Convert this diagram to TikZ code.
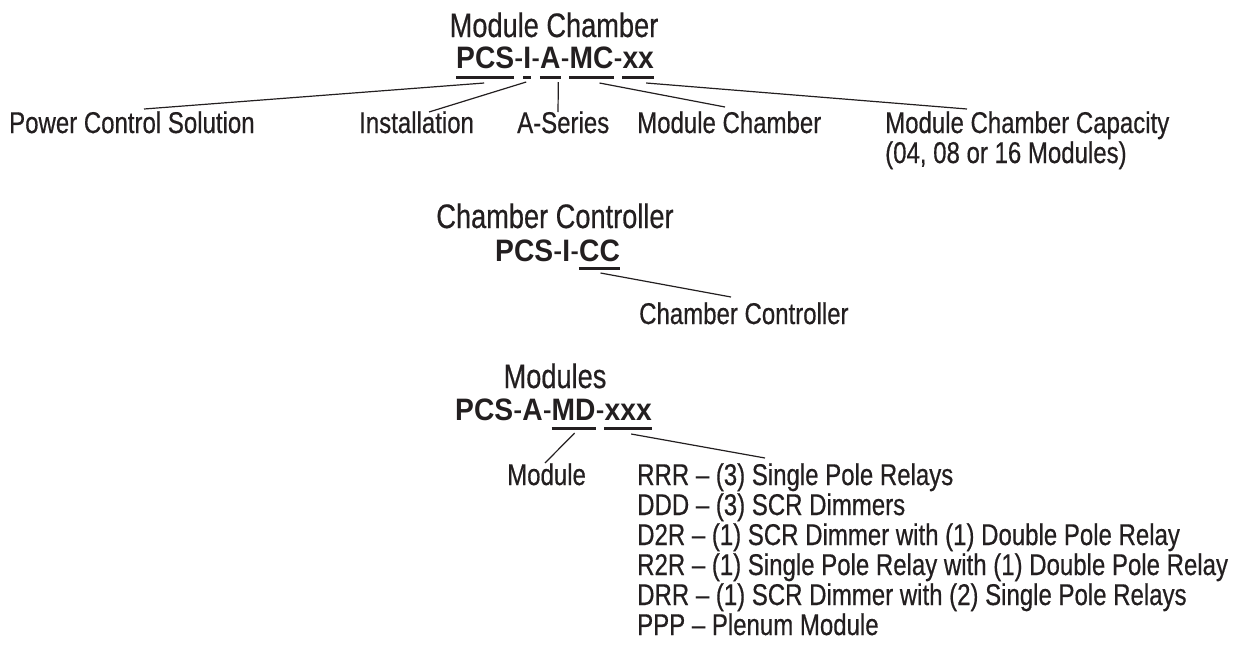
\documentclass[tikz,border=0pt]{standalone}
\usepackage{fontspec}
\setmainfont{Liberation Sans}[FakeStretch=0.8,FakeBold=0.5]
\newfontfamily\codefont{Liberation Sans Bold}[FakeStretch=0.91]
\usetikzlibrary{positioning}
\definecolor{ink}{RGB}{35,31,32}

\begin{document}
\begin{tikzpicture}[x=1pt,y=-1pt,node distance=0pt,every node/.style={text=ink}]
  \tikzstyle{ttl}=[inner sep=0pt,anchor=base,font=\fontsize{34}{36}\selectfont]
  \tikzstyle{cd}=[inner sep=0pt,font=\fontsize{31}{34}\selectfont\codefont]
  \tikzstyle{hy}=[inner sep=0pt,font=\fontsize{31}{34}\selectfont]
  \tikzstyle{lbl}=[inner sep=0pt,anchor=base west,align=left,font=\fontsize{30}{30}\selectfont]
  \tikzstyle{ul}=[draw=ink,line width=3pt]
  \tikzstyle{ld}=[draw=ink,line width=1.2pt]
  \useasboundingbox (0,0) rectangle (1239,646);

  % module chamber
  \node[ttl] (t-mc) at (554,37) {Module Chamber};
  \node[cd,anchor=base west] (mc-pcs) at (456,68) {PCS};
  \node[hy,base right=of mc-pcs] (mc-h1) {-};
  \node[cd,base right=of mc-h1] (mc-i) {I};
  \node[hy,base right=of mc-i] (mc-h2) {-};
  \node[cd,base right=of mc-h2] (mc-a) {A};
  \node[hy,base right=of mc-a] (mc-h3) {-};
  \node[cd,base right=of mc-h3] (mc-mc) {MC};
  \node[hy,base right=of mc-mc] (mc-h4) {-};
  \node[cd,base right=of mc-h4] (mc-xx) {xx};
  \foreach \p in {mc-pcs,mc-i,mc-a,mc-mc,mc-xx}
    \draw[ul] ([yshift=-9pt]\p.base west) -- ([yshift=-9pt]\p.base east);

  \node[lbl] (l-pcs) at (9,133) {Power Control Solution};
  \node[lbl] (l-inst) at (359,133) {Installation};
  \node[lbl] (l-aser) at (517,133) {A-Series};
  \node[lbl] (l-mc) at (637,133) {Module Chamber};
  \node[lbl] (l-cap) at (885,163) {Module Chamber Capacity\\(04, 08 or 16 Modules)};

  \draw[ld] ([shift={(-1pt,-15pt)}]mc-pcs.base) -- ([shift={(135pt,24pt)}]l-pcs.base west);
  \draw[ld] ([shift={(-1pt,-14pt)}]mc-i.base) -- ([shift={(70pt,21pt)}]l-inst.base west);
  \draw[ld] ([shift={(8pt,-14pt)}]mc-a.base) -- ([shift={(41pt,21pt)}]l-aser.base west);
  \draw[ld] ([shift={(8pt,-15pt)}]mc-mc.base) -- ([shift={(88pt,26pt)}]l-mc.base west);
  \draw[ld] ([shift={(8pt,-15pt)}]mc-xx.base) -- ([shift={(82pt,54pt)}]l-cap.base west);

  % chamber controller
  \node[ttl] (t-cc) at (555,228) {Chamber Controller};
  \node[cd,anchor=base west] (cc-pcs) at (495,261) {PCS};
  \node[hy,base right=of cc-pcs] (cc-h1) {-};
  \node[cd,base right=of cc-h1] (cc-i) {I};
  \node[hy,base right=of cc-i] (cc-h2) {-};
  \node[cd,base right=of cc-h2] (cc-cc) {CC};
  \draw[ul] ([yshift=-7pt]cc-cc.base west) -- ([yshift=-7pt]cc-cc.base east);

  \node[lbl] (l-cc) at (639,324) {Chamber Controller};
  \draw[ld] ([shift={(1pt,-12pt)}]cc-cc.base) -- ([shift={(92pt,27pt)}]l-cc.base west);

  % modules
  \node[ttl] (t-md) at (555,388) {Modules};
  \node[cd,anchor=base west] (md-pcs) at (455,420) {PCS};
  \node[hy,base right=of md-pcs] (md-h1) {-};
  \node[cd,base right=of md-h1] (md-a) {A};
  \node[hy,base right=of md-a] (md-h2) {-};
  \node[cd,base right=of md-h2] (md-md) {MD};
  \node[hy,base right=of md-md] (md-h3) {-};
  \node[cd,base right=of md-h3] (md-xxx) {xxx};
  \foreach \p in {md-md,md-xxx}
    \draw[ul] ([yshift=-8pt]\p.base west) -- ([yshift=-8pt]\p.base east);

  \node[lbl] (l-md) at (507,485) {Module};
  \foreach \txt [count=\i from 0] in {RRR – (3) Single Pole Relays,
      DDD – (3) SCR Dimmers,
      D2R – (1) SCR Dimmer with (1) Double Pole Relay,
      R2R – (1) Single Pole Relay with (1) Double Pole Relay,
      DRR – (1) SCR Dimmer with (2) Single Pole Relays,
      PPP – Plenum Module}
    \node[lbl] (mod\i) at (637,{485+30*\i}) {\txt};

  \draw[ld] ([shift={(1pt,-13pt)}]md-md.base) -- ([shift={(38pt,22pt)}]l-md.base west);
  \draw[ld] ([shift={(3pt,-14pt)}]md-xxx.base) -- ([shift={(128pt,27pt)}]mod0.base west);
\end{tikzpicture}
\end{document}
